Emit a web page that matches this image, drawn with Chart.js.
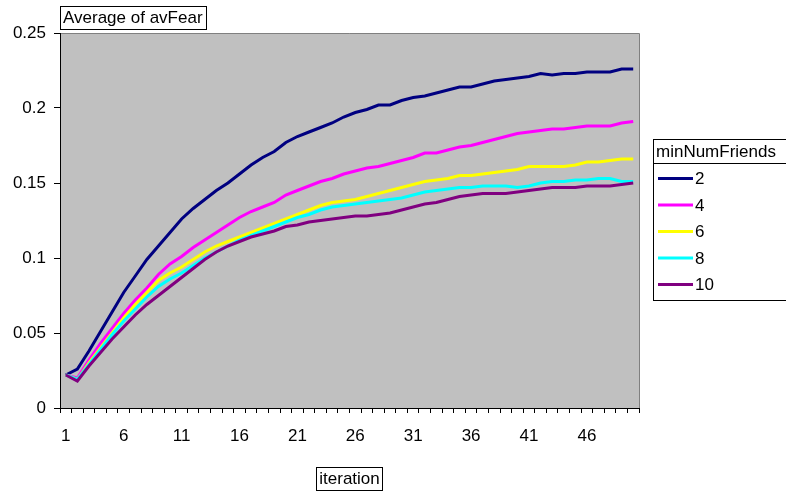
<!DOCTYPE html>
<html>
<head>
<meta charset="utf-8">
<script src="https://cdn.jsdelivr.net/npm/chart.js@4/dist/chart.umd.min.js"></script>
<style>
  html, body { margin: 0; padding: 0; background: #fff; }
  #wrap { width: 786px; height: 493px; position: relative; }
</style>
</head>
<body>
<div id="wrap"><canvas id="fearChart"></canvas></div>
<script>
var iterations = [];
for (var i = 1; i <= 50; i++) { iterations.push(String(i)); }

var seriesNames = ['2', '4', '6', '8', '10'];
var seriesColors = ['#000080', '#FF00FF', '#FFFF00', '#00FFFF', '#800080'];

var fear2 = [0.022, 0.026, 0.038, 0.051, 0.064, 0.077, 0.088, 0.099, 0.108, 0.117,
             0.126, 0.133, 0.139, 0.145, 0.150, 0.156, 0.162, 0.167, 0.171, 0.177,
             0.181, 0.184, 0.187, 0.190, 0.194, 0.197, 0.199, 0.202, 0.202, 0.205,
             0.207, 0.208, 0.210, 0.212, 0.214, 0.214, 0.216, 0.218, 0.219, 0.220,
             0.221, 0.223, 0.222, 0.223, 0.223, 0.224, 0.224, 0.224, 0.226, 0.226];
var fear4 = [0.022, 0.020, 0.032, 0.043, 0.053, 0.063, 0.072, 0.080, 0.089, 0.096,
             0.101, 0.107, 0.112, 0.117, 0.122, 0.127, 0.131, 0.134, 0.137, 0.142,
             0.145, 0.148, 0.151, 0.153, 0.156, 0.158, 0.160, 0.161, 0.163, 0.165,
             0.167, 0.170, 0.170, 0.172, 0.174, 0.175, 0.177, 0.179, 0.181, 0.183,
             0.184, 0.185, 0.186, 0.186, 0.187, 0.188, 0.188, 0.188, 0.190, 0.191];
var fear6 = [0.022, 0.019, 0.030, 0.040, 0.050, 0.060, 0.069, 0.077, 0.085, 0.090,
             0.094, 0.099, 0.104, 0.108, 0.111, 0.114, 0.117, 0.120, 0.123, 0.126,
             0.129, 0.132, 0.135, 0.137, 0.138, 0.139, 0.141, 0.143, 0.145, 0.147,
             0.149, 0.151, 0.152, 0.153, 0.155, 0.155, 0.156, 0.157, 0.158, 0.159,
             0.161, 0.161, 0.161, 0.161, 0.162, 0.164, 0.164, 0.165, 0.166, 0.166];
var fear8 = [0.022, 0.019, 0.029, 0.039, 0.049, 0.058, 0.066, 0.074, 0.081, 0.086,
             0.090, 0.095, 0.100, 0.104, 0.108, 0.112, 0.115, 0.118, 0.121, 0.124,
             0.127, 0.129, 0.132, 0.134, 0.135, 0.136, 0.137, 0.138, 0.139, 0.140,
             0.142, 0.144, 0.145, 0.146, 0.147, 0.147, 0.148, 0.148, 0.148, 0.147,
             0.148, 0.150, 0.151, 0.151, 0.152, 0.152, 0.153, 0.153, 0.151, 0.151];
var fear10 = [0.022, 0.018, 0.028, 0.037, 0.046, 0.054, 0.062, 0.069, 0.075, 0.081,
              0.087, 0.093, 0.099, 0.104, 0.108, 0.111, 0.114, 0.116, 0.118, 0.121,
              0.122, 0.124, 0.125, 0.126, 0.127, 0.128, 0.128, 0.129, 0.130, 0.132,
              0.134, 0.136, 0.137, 0.139, 0.141, 0.142, 0.143, 0.143, 0.143, 0.144,
              0.145, 0.146, 0.147, 0.147, 0.147, 0.148, 0.148, 0.148, 0.149, 0.150];

var allSeries = [fear2, fear4, fear6, fear8, fear10];
var FONT = '"Liberation Sans", Arial, sans-serif';

function boxedText(ctx, text, x, y, align) {
    ctx.save();
    ctx.font = '17px ' + FONT;
    var w = ctx.measureText(text).width + 6;
    var h = 23;
    var left = align === 'center' ? x - w / 2 : x;
    ctx.fillStyle = '#fff';
    ctx.fillRect(left, y, w, h);
    ctx.strokeStyle = '#000';
    ctx.lineWidth = 1;
    ctx.strokeRect(Math.round(left) + 0.5, Math.round(y) + 0.5, Math.round(w), h);
    ctx.fillStyle = '#000';
    ctx.textBaseline = 'middle';
    ctx.textAlign = 'left';
    ctx.fillText(text, left + 3, y + h / 2 + 1);
    ctx.restore();
}

var excelLook = {
    id: 'excelLook',
    beforeDraw: function(chart) {
        var a = chart.chartArea, ctx = chart.ctx;
        ctx.save();
        ctx.fillStyle = '#C0C0C0';
        ctx.fillRect(a.left, a.top, a.right - a.left, a.bottom - a.top);
        ctx.strokeStyle = '#808080';
        ctx.lineWidth = 1;
        ctx.beginPath();
        ctx.moveTo(a.left, a.top + 0.5);
        ctx.lineTo(a.right + 0.5, a.top + 0.5);
        ctx.lineTo(a.right + 0.5, a.bottom);
        ctx.stroke();
        ctx.restore();
    },
    afterDraw: function(chart) {
        var a = chart.chartArea, ctx = chart.ctx;
        boxedText(ctx, 'Average of avFear', a.left, a.top - 27, 'left');
        boxedText(ctx, 'iteration', (a.left + a.right) / 2, 467, 'center');

        // legend box
        var lx = a.right + 14, ly = 139.5, lw = 150, lh = 161;
        ctx.save();
        ctx.fillStyle = '#fff';
        ctx.fillRect(lx, ly, lw, lh);
        ctx.strokeStyle = '#000';
        ctx.lineWidth = 1;
        ctx.strokeRect(lx + 0.5, ly, lw, lh);
        ctx.beginPath();
        ctx.moveTo(lx, ly + 24);
        ctx.lineTo(lx + lw, ly + 24);
        ctx.stroke();
        ctx.font = '17px ' + FONT;
        ctx.fillStyle = '#000';
        ctx.textBaseline = 'middle';
        ctx.fillText('minNumFriends', lx + 3, ly + 13);
        chart.data.datasets.forEach(function(ds, k) {
            var yy = ly + 39 + k * 26.5;
            ctx.strokeStyle = ds.borderColor;
            ctx.lineWidth = 3;
            ctx.beginPath();
            ctx.moveTo(lx + 5, yy);
            ctx.lineTo(lx + 40, yy);
            ctx.stroke();
            ctx.fillStyle = '#000';
            ctx.fillText(ds.label, lx + 42, yy + 1);
        });
        ctx.restore();
    }
};

document.addEventListener('DOMContentLoaded', function() {
    new Chart(document.getElementById('fearChart'), {
        type: 'line',
        data: {
            labels: iterations,
            datasets: allSeries.map(function(values, k) {
                return {
                    label: seriesNames[k],
                    data: values,
                    borderColor: seriesColors[k],
                    backgroundColor: seriesColors[k],
                    borderWidth: 3,
                    pointRadius: 0,
                    tension: 0,
                    fill: false,
                    order: allSeries.length - k
                };
            })
        },
        options: {
            responsive: true,
            maintainAspectRatio: false,
            animation: false,
            layout: { padding: { top: 33, right: 147, bottom: 0, left: 0 } },
            plugins: {
                legend: { display: false },
                tooltip: { enabled: false }
            },
            scales: {
                x: {
                    type: 'category',
                    offset: true,
                    afterFit: function(scale) { scale.height = 85; },
                    border: { color: '#000', width: 1 },
                    grid: {
                        offset: true,
                        drawOnChartArea: false,
                        tickLength: 5,
                        color: '#000'
                    },
                    ticks: {
                        autoSkip: false,
                        maxRotation: 0,
                        padding: 13,
                        color: '#000',
                        font: { family: FONT, size: 17 },
                        callback: function(value, index) {
                            return index % 5 === 0 ? this.getLabelForValue(value) : '';
                        }
                    }
                },
                y: {
                    min: 0,
                    max: 0.25,
                    afterFit: function(scale) { scale.width = 60; },
                    border: { color: '#000', width: 1 },
                    grid: {
                        drawOnChartArea: false,
                        tickLength: 6,
                        color: '#000'
                    },
                    ticks: {
                        stepSize: 0.05,
                        padding: 8,
                        color: '#000',
                        font: { family: FONT, size: 17 },
                        callback: function(value) { return String(Number(value.toFixed(2))); }
                    }
                }
            }
        },
        plugins: [excelLook]
    });
});
</script>
</body>
</html>
